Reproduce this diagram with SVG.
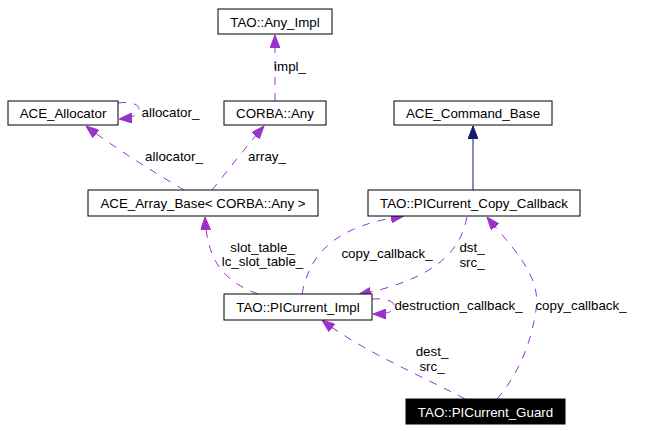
<svg xmlns="http://www.w3.org/2000/svg" width="671" height="431" viewBox="0 0 671 431">
<style>
text{font-family:"Liberation Sans",Arial,Helvetica,sans-serif;font-size:13.33px;fill:#000}
.node rect{fill:#fff;stroke:#000;stroke-width:1}
.node text{text-anchor:middle}
#guard rect{fill:#000}
#guard text{fill:#fff}
.e{fill:none;stroke:#9a32cd;stroke-width:1;stroke-dasharray:8,8}
.inh{fill:none;stroke:#191970;stroke-width:1}
.lbl{text-anchor:middle}
</style>
<defs>
<marker id="ap" markerUnits="userSpaceOnUse" viewBox="0 0 13 10" refX="13" refY="5" markerWidth="13" markerHeight="10" orient="auto"><path d="M0,0 L13,5 L0,10 z" fill="#9a32cd" stroke="#9a32cd" stroke-width="1"/></marker>
<marker id="an" markerUnits="userSpaceOnUse" viewBox="0 0 13 10" refX="13" refY="5" markerWidth="13" markerHeight="10" orient="auto"><path d="M0,0 L13,5 L0,10 z" fill="#191970" stroke="#191970" stroke-width="1"/></marker>
</defs>
<rect width="671" height="431" fill="#fff"/>
<g id="edges">
<path class="e" d="M275,101 L275,35" marker-end="url(#ap)"/>
<path class="e" d="M118,103 C132,101 140,105 139,110 C138,115 132,118 119,119" marker-end="url(#ap)"/>
<path class="e" d="M184,190 C160,176 110,145 86,126" marker-end="url(#ap)"/>
<path class="e" d="M212,190 C228,170 250,142 264,126" marker-end="url(#ap)"/>
<path class="inh" d="M473,190 L473,126" marker-end="url(#an)"/>
<path class="e" d="M258,294 C225,282 207,262 205,217" marker-end="url(#ap)"/>
<path class="e" d="M302,294 C310,250 340,225 404,216" marker-end="url(#ap)"/>
<path class="e" d="M467,217 C460,255 430,280 358,295" marker-end="url(#ap)"/>
<path class="e" d="M372,299 C388,298 396,302 394,308 C392,313 384,314 373,314" marker-end="url(#ap)"/>
<path class="e" d="M465,399 C430,380 360,350 322,320" marker-end="url(#ap)"/>
<path class="e" d="M497,399 C515,378 530,350 536,310 C542,275 510,245 487,217" marker-end="url(#ap)"/>
<text class="lbl" x="290" y="71">impl_</text>
<text class="lbl" x="170.5" y="117">allocator_</text>
<text class="lbl" x="174" y="161">allocator_</text>
<text class="lbl" x="267" y="161">array_</text>
<text class="lbl" x="262.5" y="252">slot_table_</text>
<text class="lbl" x="262.5" y="266">lc_slot_table_</text>
<text class="lbl" x="387" y="258">copy_callback_</text>
<text class="lbl" x="472" y="252">dst_</text>
<text class="lbl" x="472" y="267">src_</text>
<text class="lbl" x="458.5" y="310">destruction_callback_</text>
<text class="lbl" x="581" y="310">copy_callback_</text>
<text class="lbl" x="432" y="356">dest_</text>
<text class="lbl" x="432" y="371">src_</text>
</g>
<g id="any_impl" class="node"><rect x="218" y="9" width="114" height="25"/><text x="275" y="26.5">TAO::Any_Impl</text></g>
<g id="ace_allocator" class="node"><rect x="8" y="101" width="110" height="24"/><text x="63" y="118">ACE_Allocator</text></g>
<g id="corba_any" class="node"><rect x="224" y="101" width="102" height="24"/><text x="275" y="118">CORBA::Any</text></g>
<g id="ace_command_base" class="node"><rect x="394" y="101" width="158" height="24"/><text x="473" y="118">ACE_Command_Base</text></g>
<g id="ace_array_base" class="node"><rect x="88" y="190" width="230" height="26"/><text x="203" y="208">ACE_Array_Base&lt; CORBA::Any &gt;</text></g>
<g id="copy_callback" class="node"><rect x="368" y="190" width="212" height="26"/><text x="474" y="208">TAO::PICurrent_Copy_Callback</text></g>
<g id="picurrent_impl" class="node"><rect x="224" y="294" width="148" height="26"/><text x="298" y="312">TAO::PICurrent_Impl</text></g>
<g id="guard" class="node"><rect x="406" y="399" width="159" height="25"/><text x="485.5" y="416.5">TAO::PICurrent_Guard</text></g>
</svg>
